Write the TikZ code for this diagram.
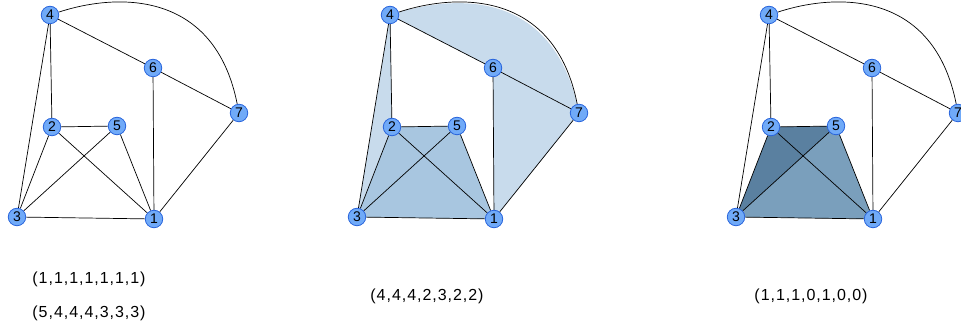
\documentclass[tikz,border=0pt]{standalone}
\usepackage{fontspec}
\setmainfont{Liberation Sans}
\newfontfamily\spacedfont[LetterSpace=6]{Liberation Sans}
\usepackage{tikz}
\usetikzlibrary{backgrounds}
\pgfdeclarelayer{shade}
\pgfsetlayers{shade,background,main}
\definecolor{vertexfill}{RGB}{112,170,248}
\definecolor{vertexborder}{RGB}{40,100,220}
\definecolor{paleregion}{RGB}{200,219,236}
\definecolor{midregion}{RGB}{168,198,224}
\definecolor{darkregion}{RGB}{90,128,160}
\definecolor{steelregion}{RGB}{122,159,188}
\tikzset{
    vertex/.style={
        circle,
        draw=vertexborder,
        fill=vertexfill,
        line width=0.8pt,
        inner sep=0pt,
        minimum size=17.5pt,
        font=\fontsize{14}{14}\selectfont
    },
    edge/.style={
        draw=black,
        line width=0.7pt
    },
    vectorlabel/.style={
        font=\spacedfont\fontsize{16}{16}\selectfont,
        inner sep=0pt,
        anchor=base
    }
}
% vertices and edges of one copy of the graph, names prefixed by #1
\newcommand{\drawgraphat}[1]{
    \foreach \n/\px/\py in {1/154/219, 2/52/127, 3/17/217, 4/50/15, 5/117/126, 6/153/68, 7/239/113}
        \node[vertex] (#1\n) at (\px,\py) {\n};
    \begin{scope}[on background layer]
        \foreach \a/\b in {4/6, 4/2, 4/3, 6/7, 6/1, 7/1, 2/5, 2/3, 2/1, 5/3, 5/1, 3/1}
            \draw[edge] (#1\a) -- (#1\b);
        \draw[edge] (#14) .. controls +(70,-23) and +(-24,-121) .. (#17);
    \end{scope}
}

\begin{document}
\begin{tikzpicture}[x=1pt, y=-1pt]
\useasboundingbox (0,0) rectangle (961,328);

% first copy
\begin{scope}
    \drawgraphat{a}
\end{scope}

% second copy with shaded faces
\begin{scope}[xshift=340pt]
    \drawgraphat{b}
    \begin{pgfonlayer}{shade}
        \fill[paleregion] (b4.center) -- (b2.center) -- (b3.center) -- cycle;
        \fill[paleregion] (b4.center) .. controls +(70,-23) and +(-24,-121) .. (b7.center)
            -- (b6.center) -- cycle;
        \fill[paleregion] (b6.center) -- (b7.center) -- (b1.center) -- cycle;
        \fill[midregion] (b3.center) -- (b2.center) -- (b5.center) -- (b1.center) -- cycle;
    \end{pgfonlayer}
\end{scope}

% third copy with two shaded triangles
\begin{scope}[xshift=719pt]
    \drawgraphat{c}
    \begin{pgfonlayer}{shade}
        \fill[steelregion] (c3.center) -- (c5.center) -- (c1.center) -- cycle;
        \fill[darkregion] (c3.center) -- (c2.center) -- (c5.center) -- cycle;
    \end{pgfonlayer}
\end{scope}

\node[vectorlabel] (va) at (89,284) {(1,1,1,1,1,1,1)};
\node[vectorlabel] (vb) at (89,318) {(5,4,4,4,3,3,3)};
\node[vectorlabel] (vc) at (427,301) {(4,4,4,2,3,2,2)};
\node[vectorlabel] (vd) at (811,301) {(1,1,1,0,1,0,0)};
\end{tikzpicture}
\end{document}
